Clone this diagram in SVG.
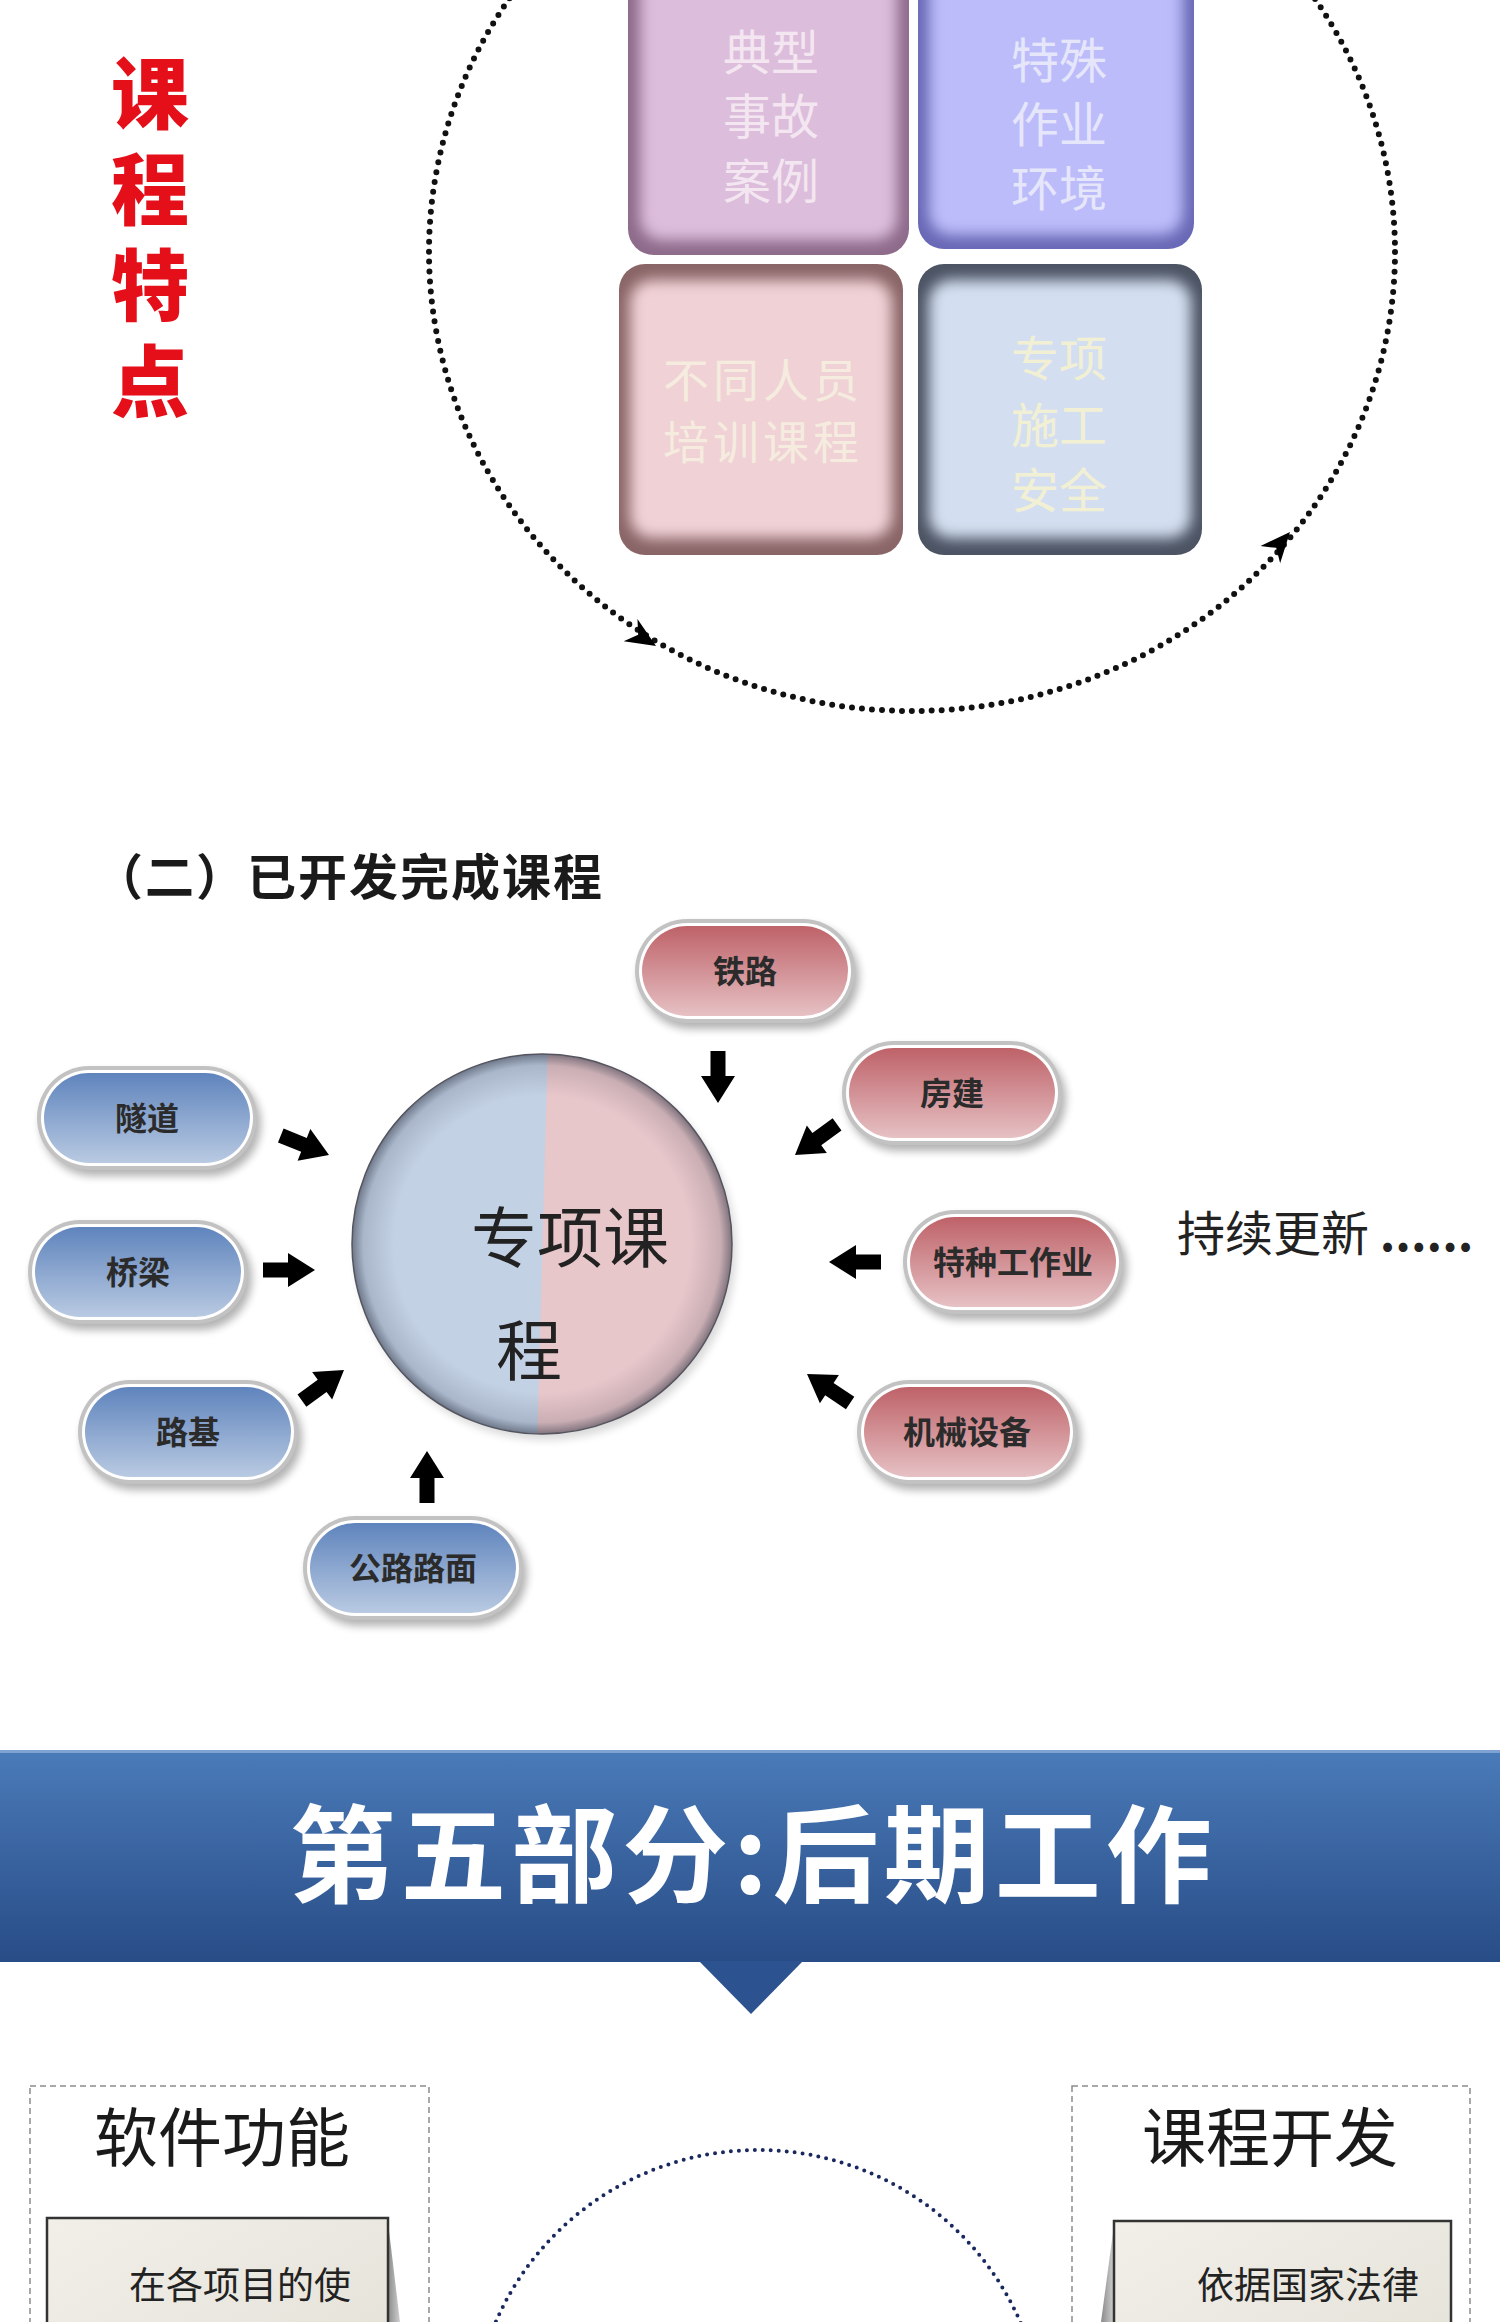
<svg xmlns="http://www.w3.org/2000/svg" width="1500" height="2322" viewBox="0 0 1500 2322">
<defs>
<style>
.cjk{font-family:"Noto Sans CJK SC","Noto Sans",sans-serif}
.ptx{font-family:"Noto Sans CJK SC","Noto Sans",sans-serif;font-size:32px;font-weight:700;fill:#2b2b2b;text-anchor:middle}
.btx{font-family:"Noto Sans CJK SC","Noto Sans",sans-serif;font-size:48px;font-weight:400;text-anchor:middle}
.arr{fill:#000}
</style>
<filter id="blur8" x="-20%" y="-20%" width="140%" height="140%"><feGaussianBlur stdDeviation="7"/></filter>
<filter id="sh" x="-20%" y="-30%" width="140%" height="160%"><feGaussianBlur stdDeviation="4"/></filter>
<linearGradient id="gBlue" x1="0" y1="0" x2="0" y2="1"><stop offset="0" stop-color="#5f84bd"/><stop offset="1" stop-color="#b9cae2"/></linearGradient>
<linearGradient id="gRed" x1="0" y1="0" x2="0" y2="1"><stop offset="0" stop-color="#be6268"/><stop offset="1" stop-color="#e6c1c4"/></linearGradient>
<linearGradient id="gBan" x1="0" y1="0" x2="0" y2="1"><stop offset="0" stop-color="#4a7bb9"/><stop offset="1" stop-color="#284c86"/></linearGradient>
<linearGradient id="gPaper" x1="0" y1="0" x2="1" y2="1"><stop offset="0" stop-color="#f1efe8"/><stop offset="1" stop-color="#e2e0d6"/></linearGradient>
<linearGradient id="gFold" x1="0" y1="0" x2="1" y2="0"><stop offset="0" stop-color="#8a8a8a"/><stop offset="1" stop-color="#d0d0d0"/></linearGradient>
<radialGradient id="gRim" cx="0.5" cy="0.5" r="0.5"><stop offset="0.78" stop-color="#1a2030" stop-opacity="0"/><stop offset="0.94" stop-color="#1a2030" stop-opacity="0.15"/><stop offset="1" stop-color="#1a2030" stop-opacity="0.5"/></radialGradient>
<clipPath id="cTL"><rect x="628" y="-40" width="281" height="295" rx="26"/></clipPath>
<clipPath id="cTR"><rect x="918" y="-40" width="276" height="289" rx="26"/></clipPath>
<clipPath id="cBL"><rect x="619" y="264" width="284" height="291" rx="26"/></clipPath>
<clipPath id="cBR"><rect x="918" y="264" width="284" height="291" rx="26"/></clipPath>
<clipPath id="cCir"><circle cx="542" cy="1244" r="190"/></clipPath>
<path id="blk" d="M0,0 L-27,-17 L-27,-7.5 L-52,-7.5 L-52,7.5 L-27,7.5 L-27,17 Z"/>
<path id="tip" d="M0,0 L-30,-13 L-21,0 L-30,13 Z"/>
</defs>
<rect x="0" y="0" width="1500" height="2322" fill="#ffffff"/>

<!-- Section 1 -->
<g id="title-red">
<text x="150" y="54" font-family="Noto Sans CJK SC, Noto Sans, sans-serif" font-size="78" font-weight="900" fill="#e50f1a" writing-mode="vertical-rl" letter-spacing="18">课程特点</text>
</g>

<g id="cycle">
<ellipse cx="912" cy="252" rx="483" ry="459" fill="none" stroke="#111" stroke-width="6" stroke-dasharray="0 10" stroke-linecap="round"/>
<use href="#tip" transform="translate(656,646) rotate(32)" class="arr"/>
<use href="#tip" transform="translate(1290,532) rotate(-49)" class="arr"/>
</g>

<g id="box-tl" clip-path="url(#cTL)">
<rect x="628" y="-40" width="281" height="295" fill="#8e6a8b"/>
<rect x="640" y="-30" width="257" height="270" rx="22" fill="#dcbddc" filter="url(#blur8)"/>
<text class="btx" fill="#f3e6f0"><tspan x="771" y="70">典型</tspan><tspan x="771" y="134">事故</tspan><tspan x="771" y="199">案例</tspan></text>
</g>
<g id="box-tr" clip-path="url(#cTR)">
<rect x="918" y="-40" width="276" height="289" fill="#6868b6"/>
<rect x="929" y="-30" width="254" height="265" rx="22" fill="#bcbcfa" filter="url(#blur8)"/>
<text class="btx" fill="#e6e6fb"><tspan x="1059" y="78">特殊</tspan><tspan x="1059" y="142">作业</tspan><tspan x="1059" y="206">环境</tspan></text>
</g>
<g id="box-bl" clip-path="url(#cBL)">
<rect x="619" y="264" width="284" height="291" fill="#8a6567"/>
<rect x="630" y="280" width="262" height="258" rx="22" fill="#f0d1d5" filter="url(#blur8)"/>
<text class="btx" fill="#f5ecdf" style="font-size:46px" letter-spacing="4"><tspan x="763" y="397">不同人员</tspan><tspan x="763" y="459">培训课程</tspan></text>
</g>
<g id="box-br" clip-path="url(#cBR)">
<rect x="918" y="264" width="284" height="291" fill="#4c5464"/>
<rect x="929" y="280" width="262" height="258" rx="22" fill="#d3dff0" filter="url(#blur8)"/>
<text class="btx" fill="#f2f0d4"><tspan x="1059" y="376">专项</tspan><tspan x="1059" y="443">施工</tspan><tspan x="1059" y="508">安全</tspan></text>
</g>

<!-- Section 2 -->
<text id="sec2-title" class="cjk" x="94" y="895" font-size="49" font-weight="700" fill="#1a1a1a" letter-spacing="2">（二）已开发完成课程</text>

<g id="center">
<circle cx="546" cy="1250" r="190" fill="#000" opacity="0.15" filter="url(#sh)"/>
<g clip-path="url(#cCir)">
<rect x="340" y="1040" width="420" height="410" fill="#c3d1e5"/>
<polygon points="548,1040 760,1040 760,1450 537,1450" fill="#e8c7cb"/>
<circle cx="542" cy="1244" r="190" fill="url(#gRim)"/>
</g>
<circle cx="542" cy="1244" r="190" fill="none" stroke="#55555f" stroke-width="1.5"/>
<text class="cjk" x="570" y="1262" font-size="66" fill="#222" text-anchor="middle">专项课</text>
<text class="cjk" x="529" y="1375" font-size="66" fill="#222" text-anchor="middle">程</text>
</g>

<g id="pill-tielu" transform="translate(745,971)">
<rect x="-106" y="-46" width="220" height="104" rx="52" fill="#000" opacity="0.3" filter="url(#sh)"/>
<rect x="-110" y="-52" width="220" height="104" rx="52" fill="#c2c2c2"/>
<rect x="-106" y="-48" width="212" height="96" rx="48" fill="#fff"/>
<rect x="-103" y="-45" width="206" height="90" rx="45" fill="url(#gRed)"/>
<text class="ptx" x="0" y="12">铁路</text>
</g>
<g id="pill-suidao" transform="translate(147,1118)">
<rect x="-106" y="-46" width="220" height="104" rx="52" fill="#000" opacity="0.3" filter="url(#sh)"/>
<rect x="-110" y="-52" width="220" height="104" rx="52" fill="#c2c2c2"/>
<rect x="-106" y="-48" width="212" height="96" rx="48" fill="#fff"/>
<rect x="-103" y="-45" width="206" height="90" rx="45" fill="url(#gBlue)"/>
<text class="ptx" x="0" y="12">隧道</text>
</g>
<g id="pill-fangjian" transform="translate(952,1093)">
<rect x="-106" y="-46" width="220" height="104" rx="52" fill="#000" opacity="0.3" filter="url(#sh)"/>
<rect x="-110" y="-52" width="220" height="104" rx="52" fill="#c2c2c2"/>
<rect x="-106" y="-48" width="212" height="96" rx="48" fill="#fff"/>
<rect x="-103" y="-45" width="206" height="90" rx="45" fill="url(#gRed)"/>
<text class="ptx" x="0" y="12">房建</text>
</g>
<g id="pill-qiaoliang" transform="translate(138,1272)">
<rect x="-106" y="-46" width="220" height="104" rx="52" fill="#000" opacity="0.3" filter="url(#sh)"/>
<rect x="-110" y="-52" width="220" height="104" rx="52" fill="#c2c2c2"/>
<rect x="-106" y="-48" width="212" height="96" rx="48" fill="#fff"/>
<rect x="-103" y="-45" width="206" height="90" rx="45" fill="url(#gBlue)"/>
<text class="ptx" x="0" y="12">桥梁</text>
</g>
<g id="pill-tezhong" transform="translate(1013,1262)">
<rect x="-106" y="-46" width="220" height="104" rx="52" fill="#000" opacity="0.3" filter="url(#sh)"/>
<rect x="-110" y="-52" width="220" height="104" rx="52" fill="#c2c2c2"/>
<rect x="-106" y="-48" width="212" height="96" rx="48" fill="#fff"/>
<rect x="-103" y="-45" width="206" height="90" rx="45" fill="url(#gRed)"/>
<text class="ptx" x="0" y="12">特种工作业</text>
</g>
<g id="pill-luji" transform="translate(188,1432)">
<rect x="-106" y="-46" width="220" height="104" rx="52" fill="#000" opacity="0.3" filter="url(#sh)"/>
<rect x="-110" y="-52" width="220" height="104" rx="52" fill="#c2c2c2"/>
<rect x="-106" y="-48" width="212" height="96" rx="48" fill="#fff"/>
<rect x="-103" y="-45" width="206" height="90" rx="45" fill="url(#gBlue)"/>
<text class="ptx" x="0" y="12">路基</text>
</g>
<g id="pill-jixie" transform="translate(967,1432)">
<rect x="-106" y="-46" width="220" height="104" rx="52" fill="#000" opacity="0.3" filter="url(#sh)"/>
<rect x="-110" y="-52" width="220" height="104" rx="52" fill="#c2c2c2"/>
<rect x="-106" y="-48" width="212" height="96" rx="48" fill="#fff"/>
<rect x="-103" y="-45" width="206" height="90" rx="45" fill="url(#gRed)"/>
<text class="ptx" x="0" y="12">机械设备</text>
</g>
<g id="pill-lumian" transform="translate(413,1568)">
<rect x="-106" y="-46" width="220" height="104" rx="52" fill="#000" opacity="0.3" filter="url(#sh)"/>
<rect x="-110" y="-52" width="220" height="104" rx="52" fill="#c2c2c2"/>
<rect x="-106" y="-48" width="212" height="96" rx="48" fill="#fff"/>
<rect x="-103" y="-45" width="206" height="90" rx="45" fill="url(#gBlue)"/>
<text class="ptx" x="0" y="12">公路路面</text>
</g>

<g id="connectors">
<use href="#blk" class="arr" transform="translate(718,1103) rotate(90)"/>
<use href="#blk" class="arr" transform="translate(329,1155) rotate(22)"/>
<use href="#blk" class="arr" transform="translate(315,1270)"/>
<use href="#blk" class="arr" transform="translate(344,1370) rotate(-36)"/>
<use href="#blk" class="arr" transform="translate(427,1451) rotate(-90)"/>
<use href="#blk" class="arr" transform="translate(795,1155) rotate(144)"/>
<use href="#blk" class="arr" transform="translate(829,1262) rotate(180)"/>
<use href="#blk" class="arr" transform="translate(807,1374) rotate(-146)"/>
</g>

<text id="more" class="cjk" x="1177" y="1251" font-size="48" fill="#222">持续更新 <tspan font-weight="700">......</tspan></text>

<!-- Section 3 banner -->
<g id="banner">
<rect x="0" y="1750" width="1500" height="212" fill="url(#gBan)"/>
<rect x="0" y="1750" width="1500" height="3" fill="#7ea3d2"/>
<polygon points="699,1961 803,1961 751,2014" fill="#2d5290"/>
<text class="cjk" x="753" y="1894" font-size="106" font-weight="700" fill="#ffffff" text-anchor="middle" letter-spacing="5">第五部分:后期工作</text>
</g>

<g id="arc">
<circle cx="758" cy="2436" r="286" fill="none" stroke="#1a2860" stroke-width="4" stroke-dasharray="0 8" stroke-linecap="round"/>
</g>

<g id="panel-left">
<rect x="30" y="2086" width="399" height="300" fill="none" stroke="#8c8c8c" stroke-width="1.5" stroke-dasharray="6 4"/>
<text class="cjk" x="222" y="2161" font-size="64" fill="#1a1a1a" text-anchor="middle">软件功能</text>
<polygon points="388,2222 400,2322 388,2322" fill="url(#gFold)"/>
<rect x="47" y="2218" width="341" height="200" fill="url(#gPaper)" stroke="#333" stroke-width="2.5"/>
<text class="cjk" x="129" y="2299" font-size="37" fill="#222">在各项目的使</text>
</g>

<g id="panel-right">
<rect x="1072" y="2086" width="398" height="300" fill="none" stroke="#8c8c8c" stroke-width="1.5" stroke-dasharray="6 4"/>
<text class="cjk" x="1270" y="2161" font-size="64" fill="#1a1a1a" text-anchor="middle">课程开发</text>
<polygon points="1114,2225 1101,2322 1114,2322" fill="url(#gFold)"/>
<rect x="1114" y="2221" width="337" height="200" fill="url(#gPaper)" stroke="#333" stroke-width="2.5"/>
<text class="cjk" x="1197" y="2299" font-size="37" fill="#222">依据国家法律</text>
</g>
</svg>
